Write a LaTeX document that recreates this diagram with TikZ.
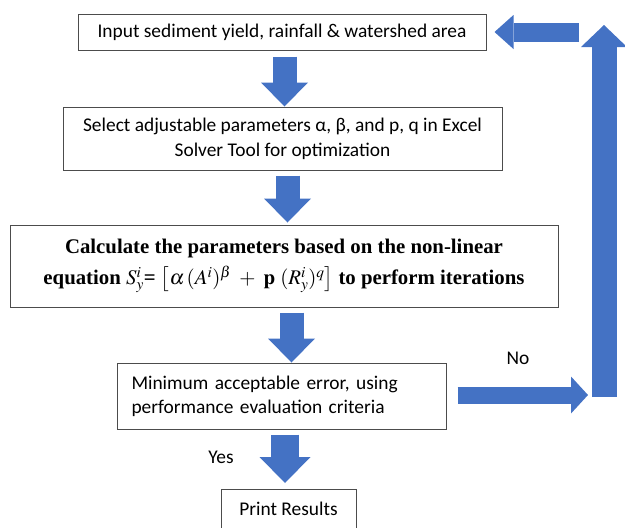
\documentclass[tikz,border=0pt]{standalone}
\usepackage{mathptmx}
\usepackage{fontspec}
\setmainfont{Carlito}
\newfontfamily\serifbf{Liberation Serif}
\usetikzlibrary{arrows.meta, positioning}
\definecolor{flowblue}{HTML}{4472C4}
\tikzset{
  box/.style={rectangle,draw=black!70,line width=1pt,align=center,inner sep=3pt,font=\fontsize{19.4}{25}\selectfont},
  fat/.style={draw=flowblue,line width=24pt,-{Triangle[width=47pt,length=24pt,line width=0pt]}},
  lbl/.style={font=\fontsize{19.4}{22}\selectfont}
}

\begin{document}
\begin{tikzpicture}[x=1pt,y=-1pt]
\useasboundingbox (0,0) rectangle (625,528);
\node[box, minimum width=408pt, minimum height=36pt] (inp) at (282,32) {Input sediment yield, rainfall \& watershed area};
\node[box, minimum width=439pt, minimum height=63pt] (sel) at (282.5,138.5) {Select adjustable parameters α, β, and p, q in Excel\\Solver Tool for optimization};
\node[box, minimum width=548pt, minimum height=82pt, font=\serifbf\bfseries\fontsize{20.8}{31}\selectfont] (calc) at (284,266)
  {Calculate the parameters based on the non-linear\\equation $S_y^i$= $\left[\rule[-5pt]{0pt}{21pt}\alpha\,(A^i)^\beta\ +\ \mathbf{p}\ (R_y^i)^q\right]$ to perform iterations};
\node[box, minimum width=329pt, minimum height=66pt, align=left, text width=300pt, font=\fontsize{19.4}{24}\selectfont] (crit) at (281.5,396) {Minimum acceptable error, using\\performance evaluation criteria};
\node[box, minimum width=135pt, text height=22.5pt, text depth=22pt, anchor=north] (res) at (288.5,489) {Print Results};
\node[lbl] (no) at (518,358) {No};
\node[lbl] (yes) at (221,457) {Yes};
% loop back
\coordinate (noend) at (588,395);
\coordinate (upfoot) at (604,397);
\coordinate (uptop) at (604,25);
\coordinate (backstart) at (579,32);
\draw[fat,shorten <=6pt] ([xshift=2.5pt]inp.south) -- ([xshift=2pt]sel.north);
\draw[fat,shorten <=5pt,shorten >=2pt] ([xshift=5pt]sel.south) -- ([xshift=3.5pt]calc.north);
\draw[fat,shorten <=5pt] ([xshift=7.5pt]calc.south) -- ([xshift=10pt]crit.north);
\draw[fat,line width=28pt,shorten <=5pt,shorten >=6pt,-{Triangle[width=51pt,length=26pt,line width=0pt]}] ([xshift=3.5pt]crit.south) -- ([xshift=-3.5pt]res.north);
\draw[fat,line width=17pt,shorten <=11pt,-{Triangle[width=37pt,length=17pt,line width=0pt]}] (crit.east |- noend) -- (noend);
\draw[fat,line width=25pt,-{Triangle[width=46pt,length=22pt,line width=0pt]}] (upfoot) -- (uptop);
\draw[fat,line width=19pt,shorten >=8pt,-{Triangle[width=34pt,length=19pt,line width=0pt]}] (backstart) -- (inp.east |- backstart);
\end{tikzpicture}
\end{document}
